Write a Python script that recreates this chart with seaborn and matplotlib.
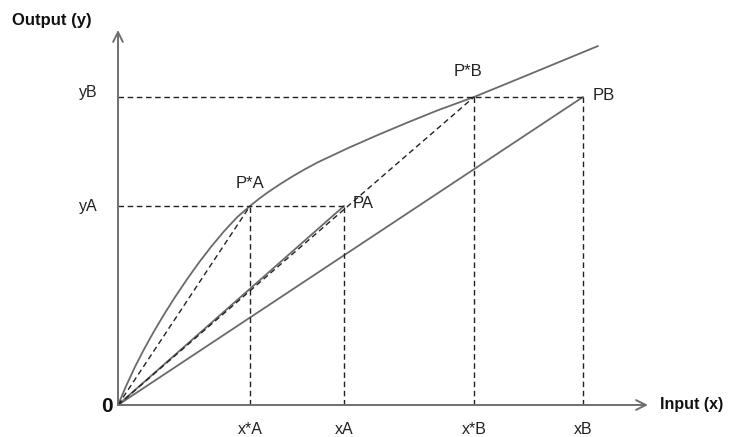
import matplotlib
matplotlib.use("Agg")
import matplotlib.pyplot as plt
import seaborn as sns

sns.set_style("white")
plt.rcParams["font.family"] = ["Liberation Sans", "DejaVu Sans"]

# Production frontier (input x, output y)
frontier_x = [0, 8, 17, 26, 36, 46, 57, 69, 81, 93, 106, 119, 132, 141, 150, 162, 175,
              187, 200, 230, 260, 290, 320, 356, 400, 440, 480]
frontier_y = [0, 18.8, 38.2, 55.7, 73.7, 90.5, 107.9, 125.7, 142.5, 158.1, 173.7, 187.7, 199,
              206.2, 212.8, 220.8, 228.9, 235.8, 242.8, 256.9, 270.1, 282.7, 294.8, 308,
              326, 342.5, 359]

# Observed and efficient points
point_names = ["P*A", "PA", "P*B", "PB"]
point_x = [132, 226, 356, 465]
point_y = [199, 199, 308, 308]

# Axis labels
x_tick_labels = ["x*A", "xA", "x*B", "xB"]
y_tick_labels = ["yA", "yB"]

pts = dict(zip(point_names, zip(point_x, point_y)))

fig = plt.figure(figsize=(7.30, 4.37), dpi=100)
ax = fig.add_axes([0, 0, 1, 1])
ax.set_xlim(-118, 612)
ax.set_ylim(-32, 405)
ax.axis("off")

line_col = "#6a6a6a"
dash_col = "#222222"
dash = (0, (4, 2.6))

# Axes with arrow heads
axis_kw = dict(arrowstyle="->,head_length=0.7,head_width=0.35", color="#6f6f6f", lw=1.4,
               shrinkA=0, shrinkB=0)
ax.annotate("", xy=(0, 375), xytext=(0, 0), arrowprops=axis_kw)
ax.annotate("", xy=(530, 0), xytext=(0, 0), arrowprops=axis_kw)

# Frontier
sns.lineplot(x=frontier_x, y=frontier_y, ax=ax, color=line_col, lw=1.3,
             sort=False, estimator=None)

# Rays from the origin to the observed points (solid)
for name in ["PA", "PB"]:
    px, py = pts[name]
    sns.lineplot(x=[0, px], y=[0, py], ax=ax, color=line_col, lw=1.3,
                 sort=False, estimator=None)

# Rays from the origin to the efficient points (dashed)
for name in ["P*A", "P*B"]:
    px, py = pts[name]
    sns.lineplot(x=[0, px], y=[0, py], ax=ax, color=dash_col, lw=1.0,
                 linestyle=dash, sort=False, estimator=None)

# Guide lines to the axes
for name in ["PA", "PB"]:
    px, py = pts[name]
    ax.plot([0, px], [py, py], color=dash_col, lw=1.0, linestyle=dash)
for name in point_names:
    px, py = pts[name]
    ax.plot([px, px], [0, py], color=dash_col, lw=1.0, linestyle=dash)

# Tick-style labels
for lab, xv in zip(x_tick_labels, point_x):
    ax.text(xv, -25, lab, ha="center", va="center", fontsize=11.5, color="#222222")
ax.text(-20, pts["PA"][1], y_tick_labels[0], ha="right", va="center", fontsize=11.5, color="#222222")
ax.text(-20, pts["PB"][1] + 5, y_tick_labels[1], ha="right", va="center", fontsize=11.5, color="#222222")

# Point labels
ax.text(pts["P*A"][0], pts["P*A"][1] + 22, "P*A", ha="center", va="center", fontsize=12, color="#222222")
ax.text(pts["PA"][0] + 9, pts["PA"][1] + 2, "PA", ha="left", va="center", fontsize=12, color="#222222")
ax.text(pts["P*B"][0] - 6, pts["P*B"][1] + 25, "P*B", ha="center", va="center", fontsize=12, color="#222222")
ax.text(pts["PB"][0] + 10, pts["PB"][1] + 1, "PB", ha="left", va="center", fontsize=12, color="#222222")

# Axis titles and origin
ax.text(-106, 385, "Output (y)", ha="left", va="center", fontsize=12, fontweight="bold", color="#111111")
ax.text(542, 0, "Input (x)", ha="left", va="center", fontsize=11.5, fontweight="bold", color="#111111")
ax.text(-5, -2, "0", ha="right", va="center", fontsize=15, fontweight="bold", color="#111111")

fig.savefig("out.png", dpi=100)
